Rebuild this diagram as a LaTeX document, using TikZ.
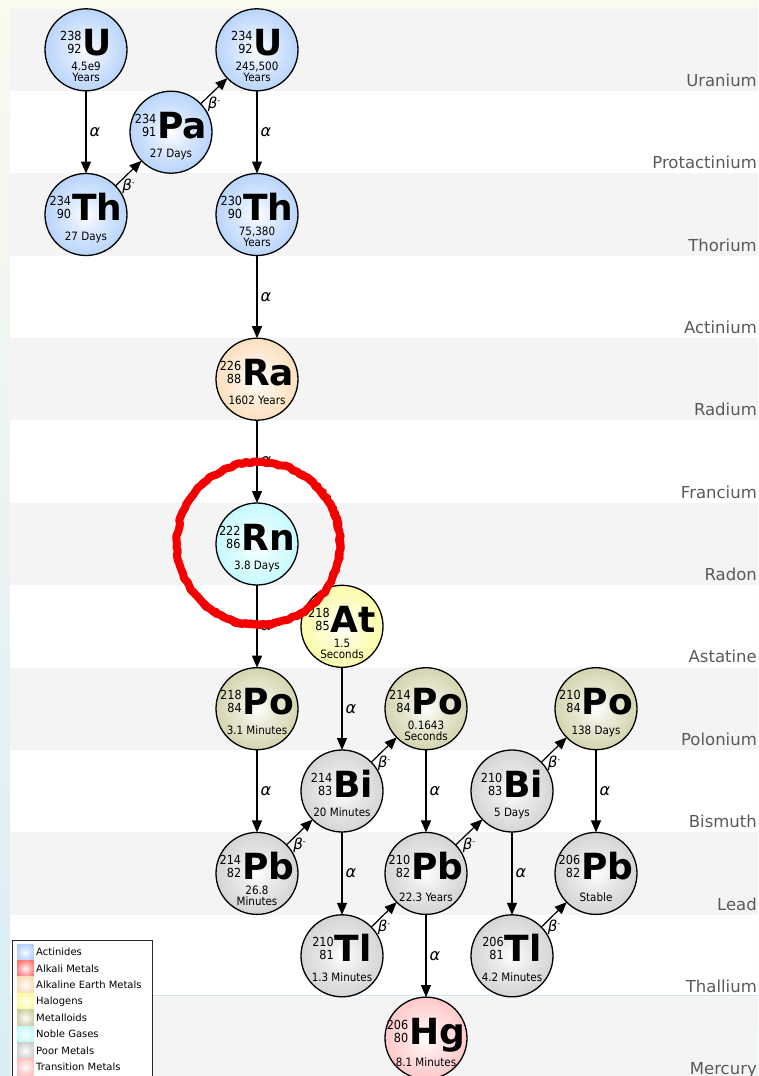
\documentclass[tikz,border=0pt]{standalone}
\usepackage{fontspec}
\setmainfont{DejaVu Sans}
\newfontfamily\condf{DejaVu Sans}[FakeStretch=0.9]
\usetikzlibrary{arrows.meta,decorations.pathmorphing}

% element-family colours
\definecolor{actin}{RGB}{158,196,250}
\definecolor{alkali}{RGB}{255,90,90}
\definecolor{alkearth}{RGB}{250,212,166}
\definecolor{halo}{RGB}{250,250,135}
\definecolor{metalloid}{RGB}{196,196,145}
\definecolor{noble}{RGB}{176,248,252}
\definecolor{poor}{RGB}{196,196,196}
\definecolor{trans}{RGB}{255,180,180}
% page colours
\definecolor{bandgray}{RGB}{244,244,244}
\definecolor{labelgray}{RGB}{90,90,90}
\definecolor{cream}{RGB}{250,250,238}
\definecolor{paleblue}{RGB}{218,236,246}
\definecolor{lineblue}{RGB}{205,228,242}
\definecolor{ringred}{RGB}{245,0,0}
\definecolor{legendline}{RGB}{40,40,40}

% radial fills: white centre fading to the family colour at the rim
\newcommand\mkshade[1]{\pgfdeclareradialshading{sh-#1}{\pgfpoint{0bp}{0bp}}{%
  color(0bp)=(white); color(10bp)=(#1!35!white); color(30bp)=(#1!85!white);
  color(50bp)=(#1)}}
\mkshade{actin}\mkshade{alkali}\mkshade{alkearth}\mkshade{halo}
\mkshade{metalloid}\mkshade{noble}\mkshade{poor}\mkshade{trans}

\newcommand\hlfont{\condf\fontsize{11.5}{11}\selectfont}
\newcommand\numfont{\condf\fontsize{12.5}{13}\selectfont}
\newcommand\legfont{\fontsize{10}{12}\selectfont}
\newcommand\bandfont{\fontsize{16.5}{18}\selectfont}
\newcommand\symfont{\fontsize{36}{36}\selectfont\bfseries}
% mass number over atomic number, right aligned
\newcommand\numst[2]{\vbox{\numfont\baselineskip=13pt\halign{\hfil##\cr#1\cr#2\cr}}}
% two centred half-life lines; the box sits on the last baseline
\newcommand\twoline[2]{\vbox{\hlfont\baselineskip=11pt\halign{\hfil##\hfil\cr#1\cr#2\cr}}}

\tikzset{
  iso/.style={circle, draw=black, line width=1.3pt, minimum size=82pt,
              inner sep=0pt, outer sep=0pt, shade},
  txt/.style={anchor=base, inner sep=0pt},
  decay/.style={-{Triangle[length=12pt,width=10pt]}, line width=1.2pt, black},
  alab/.style={midway, anchor=west, xshift=3pt, inner sep=0pt,
               font=\fontsize{16}{16}\selectfont\itshape},
  blab/.style={midway, yshift=-13pt, inner sep=0pt,
               font=\fontsize{15}{15}\selectfont\itshape},
}

% name, position, mass, Z, symbol, half-life line 1, line 2, colour, baseline offset
\newcommand\iso[9]{%
  \node[iso, shading=sh-#8] (#1) at (#2) {};
  \node[txt] at ([yshift=-6pt]#1.center)
    {\raisebox{2pt}{\numst{#3}{#4}}\kern1pt{\symfont #5}};
  \if\relax\detokenize{#7}\relax
    \node[txt, font=\hlfont] at ([yshift=-#9pt]#1.center) {#6};
  \else
    \node[txt] at ([yshift=-#9pt-11pt]#1.center) {\twoline{#6}{#7}};
  \fi}

\newcommand\betam{β\raisebox{5pt}{\fontsize{8}{8}\selectfont\upshape -}}

\begin{document}
\begin{tikzpicture}[x=1pt, y=-1pt]
\useasboundingbox (0,0) rectangle (758,1076);
\clip (0,0) rectangle (758,1076);

% page background and element bands
\shade[top color=cream, bottom color=paleblue] (0,0) rectangle (758,1076);
\foreach \name [count=\k from 0] in {Uranium,Protactinium,Thorium,Actinium,Radium,
    Francium,Radon,Astatine,Polonium,Bismuth,Lead,Thallium,Mercury} {
  \pgfmathsetmacro\bt{8.64+82.36*\k}
  \ifodd\k
    \fill[white] (10,\bt) rectangle (758,\bt+82.36);
  \else
    \fill[bandgray] (10,\bt) rectangle (758,\bt+82.36);
  \fi
  \node[anchor=base east, inner sep=0pt, font=\bandfont, text=labelgray]
    at (757,\bt+77.8) {\name};
}
\draw[lineblue, line width=0.8pt] (10,995.6) -- (758,995.6);

% legend
\draw[fill=white, draw=legendline, line width=1pt] (12.5,940.5) rectangle (152.5,1090);
\foreach \cc/\tt [count=\i from 0] in {actin/Actinides, alkali/Alkali Metals,
    alkearth/Alkaline Earth Metals, halo/Halogens, metalloid/Metalloids,
    noble/Noble Gases, poor/Poor Metals, trans/Transition Metals} {
  \pgfmathsetmacro\yy{944+16.4*\i}
  \shade[shading=sh-\cc] (17,\yy) rectangle (33.5,\yy+16.4);
  \node[anchor=west, inner sep=0pt, font=\legfont] at (36,\yy+8.2) {\tt};
}

% nuclides
\iso{u238}{86,49.8}{238}{92}{U}{4.5e9}{Years}{actin}{21}
\iso{pa234}{171,132.2}{234}{91}{Pa}{27 Days}{}{actin}{25.5}
\iso{u234}{257,49.8}{234}{92}{U}{245,500}{Years}{actin}{21}
\iso{th234}{86,214.5}{234}{90}{Th}{27 Days}{}{actin}{25.5}
\iso{th230}{257,214.5}{230}{90}{Th}{75,380}{Years}{actin}{21}
\iso{ra226}{257,379.2}{226}{88}{Ra}{1602 Years}{}{alkearth}{25.5}
\iso{rn222}{257,544}{222}{86}{Rn}{3.8 Days}{}{noble}{25.5}
\iso{at218}{342,626.3}{218}{85}{At}{1.5}{Seconds}{halo}{21}
\iso{po218}{257,708.7}{218}{84}{Po}{3.1 Minutes}{}{metalloid}{25.5}
\iso{po214}{426,708.7}{214}{84}{Po}{0.1643}{Seconds}{metalloid}{21}
\iso{po210}{596,708.7}{210}{84}{Po}{138 Days}{}{metalloid}{25.5}
\iso{bi214}{342,791}{214}{83}{Bi}{20 Minutes}{}{poor}{25.5}
\iso{bi210}{512,791}{210}{83}{Bi}{5 Days}{}{poor}{25.5}
\iso{pb214}{257,873.4}{214}{82}{Pb}{26.8}{Minutes}{poor}{21}
\iso{pb210}{426,873.4}{210}{82}{Pb}{22.3 Years}{}{poor}{28.5}
\iso{pb206}{596,873.4}{206}{82}{Pb}{Stable}{}{poor}{28.5}
\iso{tl210}{342,955.8}{210}{81}{Tl}{1.3 Minutes}{}{poor}{25.5}
\iso{tl206}{512,955.8}{206}{81}{Tl}{4.2 Minutes}{}{poor}{25.5}
\iso{hg206}{426,1038.1}{206}{80}{Hg}{8.1 Minutes}{}{trans}{28.5}

% alpha decays
\draw[decay] (u238) -- node[alab]{α} (th234);
\draw[decay] (u234) -- node[alab]{α} (th230);
\draw[decay] (th230) -- node[alab]{α} (ra226);
\draw[decay] (ra226) -- node[alab]{α} (rn222);
\draw[decay] (rn222) -- node[alab]{α} (po218);
\draw[decay] (at218) -- node[alab]{α} (bi214);
\draw[decay] (po218) -- node[alab]{α} (pb214);
\draw[decay] (po214) -- node[alab]{α} (pb210);
\draw[decay] (bi214) -- node[alab]{α} (tl210);
\draw[decay] (po210) -- node[alab]{α} (pb206);
\draw[decay] (bi210) -- node[alab]{α} (tl206);
\draw[decay] (pb210) -- node[alab]{α} (hg206);

% beta decays
\draw[decay] (th234) -- node[blab]{\betam} (pa234);
\draw[decay] (pa234) -- node[blab]{\betam} (u234);
\draw[decay] (pb214) -- node[blab]{\betam} (bi214);
\draw[decay] (bi214) -- node[blab]{\betam} (po214);
\draw[decay] (tl210) -- node[blab]{\betam} (pb210);
\draw[decay] (pb210) -- node[blab]{\betam} (bi210);
\draw[decay] (bi210) -- node[blab]{\betam} (po210);
\draw[decay] (tl206) -- node[blab]{\betam} (pb206);

% hand-drawn ring around radon
\pgfmathsetseed{7}
\draw[ringred, line width=8pt, line join=round,
      decorate, decoration={random steps, segment length=4pt, amplitude=1pt}]
  (258.5,543.5) circle[radius=81.5pt];
\draw[ringred, line width=3.5pt, line join=round,
      decorate, decoration={random steps, segment length=3pt, amplitude=1.2pt}]
  (259.5,542) circle[x radius=83pt, y radius=80.5pt];
\draw[ringred, line width=2.5pt, line join=round,
      decorate, decoration={random steps, segment length=3pt, amplitude=1.2pt}]
  (257.5,544.5) circle[x radius=80pt, y radius=82pt];
\end{tikzpicture}
\end{document}
